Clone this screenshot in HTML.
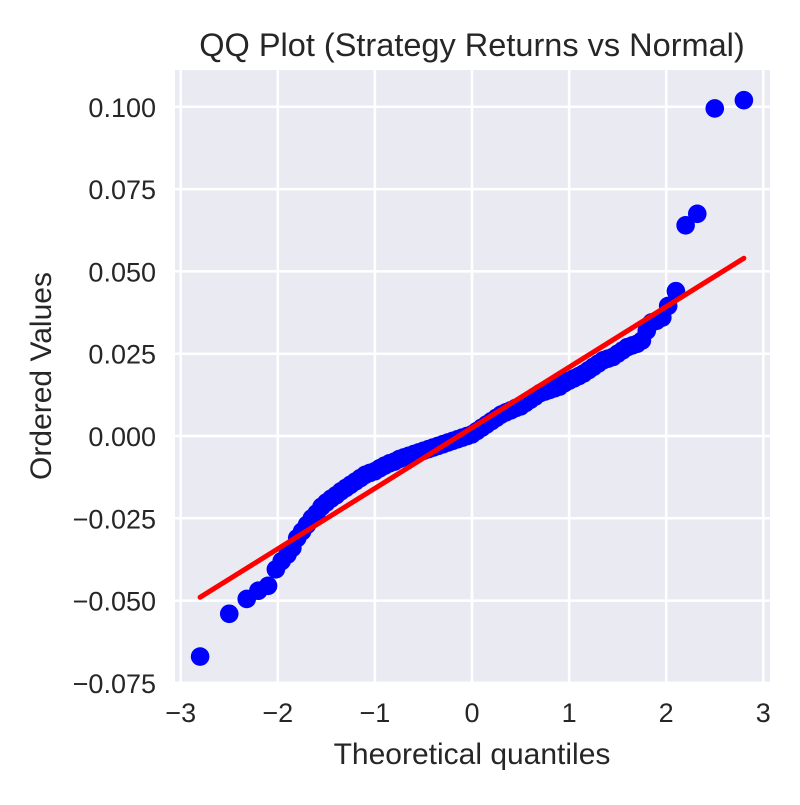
<!DOCTYPE html>
<html><head><meta charset="utf-8"><style>
body{margin:0;background:#fff;}
svg text{font-family:"Liberation Sans",sans-serif;fill:#262626;}
</style></head><body>
<svg id="c" width="800" height="800">
<rect x="175" y="70" width="595" height="613" fill="#eaeaf2"/>
<g id="grid"></g>
<g id="ticks"></g>
<g id="pts"></g>
<g id="ln"></g>
<text x="472" y="56" font-size="32.5" text-anchor="middle">QQ Plot (Strategy Returns vs Normal)</text>
<text x="472" y="764" font-size="30" text-anchor="middle">Theoretical quantiles</text>
<text x="51" y="376" font-size="30" text-anchor="middle" transform="rotate(-90 51 376)">Ordered Values</text>
</svg>
<script>
const xTicks=[-3,-2,-1,0,1,2,3];
const xTickLabels=["−3","−2","−1","0","1","2","3"];
const yTicks=[-0.075,-0.05,-0.025,0,0.025,0.05,0.075,0.1];
const yTickLabels=["−0.075","−0.050","−0.025","0.000","0.025","0.050","0.075","0.100"];
const quantiles=[-2.8,-2.5,-2.32,-2.2,-2.1,-2.02,-1.96,-1.9,-1.85,-1.8,-1.75,-1.7,-1.65,-1.6,-1.55,-1.5,-1.45,-1.4,-1.35,-1.3,-1.25,-1.2,-1.15,-1.1,-1.05,-1.0,-0.95,-0.9,-0.85,-0.8,-0.75,-0.7,-0.65,-0.6,-0.55,-0.5,-0.45,-0.4,-0.35,-0.3,-0.25,-0.2,-0.15,-0.1,-0.05,0,0.05,0.1,0.15,0.2,0.25,0.3,0.35,0.4,0.45,0.5,0.55,0.6,0.65,0.7,0.75,0.8,0.85,0.9,0.95,1.0,1.05,1.1,1.15,1.2,1.25,1.3,1.35,1.4,1.45,1.5,1.55,1.6,1.65,1.7,1.75,1.8,1.85,1.9,1.96,2.02,2.1,2.2,2.32,2.5,2.8];
const ordered=[-0.067,-0.054,-0.0495,-0.047,-0.0455,-0.0405,-0.038,-0.036,-0.034,-0.031,-0.029,-0.027,-0.025,-0.0235,-0.0215,-0.0202,-0.019,-0.018,-0.0168,-0.0158,-0.0148,-0.0138,-0.0128,-0.0118,-0.0112,-0.0107,-0.0098,-0.009,-0.0083,-0.0078,-0.007,-0.0065,-0.006,-0.0055,-0.005,-0.0045,-0.004,-0.0035,-0.003,-0.0025,-0.002,-0.0015,-0.001,-0.0005,0.0,0.0005,0.0015,0.0025,0.0035,0.0045,0.0055,0.0065,0.0072,0.0078,0.0085,0.009,0.01,0.011,0.012,0.013,0.0135,0.014,0.0145,0.015,0.016,0.0168,0.0175,0.0182,0.019,0.02,0.021,0.022,0.023,0.0235,0.024,0.025,0.026,0.027,0.0275,0.028,0.029,0.032,0.0345,0.035,0.036,0.0395,0.044,0.064,0.0675,0.0995,0.102];
const fitX=[-2.8,2.8];
const fitY=[-0.0490,0.0540];
const X=v=>472+v*97.1, Y=v=>436-v*3292;
const NS="http://www.w3.org/2000/svg";
function mk(t,a,p){const e=document.createElementNS(NS,t);for(const k in a)e.setAttribute(k,a[k]);p.appendChild(e);return e;}
const g=document.getElementById('grid'),tk=document.getElementById('ticks');
xTicks.forEach((v,i)=>{
 const l=mk('line',{x1:X(v),x2:X(v),y1:70,y2:683,stroke:'#fff','stroke-width':2.5},g);
 
 
 const t=mk('text',{x:X(v),y:722,'font-size':27,'text-anchor':'middle'},tk);
 t.textContent=xTickLabels[i];
 
 
});
yTicks.forEach((v,i)=>{
 const l=mk('line',{x1:175,x2:770,y1:Y(v),y2:Y(v),stroke:'#fff','stroke-width':2.5},g);
 
 
 const t=mk('text',{x:156,y:Y(v)+10,'font-size':27,'text-anchor':'end'},tk);
 t.textContent=yTickLabels[i];
 
 
});
const p=document.getElementById('pts');
quantiles.forEach((q,i)=>{
 const c=mk('circle',{cx:X(q),cy:Y(ordered[i]),r:9.3,fill:'#0000ff'},p);
 
 
});
const fl=mk('line',{x1:X(fitX[0]),y1:Y(fitY[0]),x2:X(fitX[1]),y2:Y(fitY[1]),stroke:'#ff0000','stroke-width':5,'stroke-linecap':'round'},document.getElementById('ln'));


</script>
</body></html>
